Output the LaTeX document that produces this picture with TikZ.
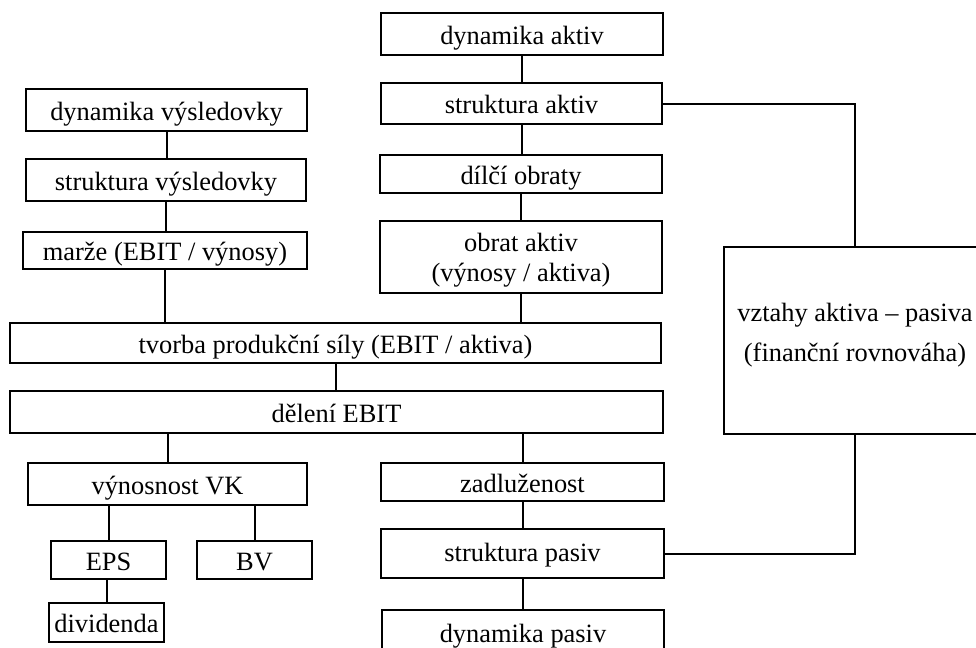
\documentclass[tikz,border=0pt]{standalone}
\usepackage{fontspec}
\setmainfont{Liberation Serif}
\tikzset{
  box/.style={draw, line width=1pt, inner sep=0pt, align=center,
              text height=10pt, text depth=0pt,
              font=\fontsize{13.2}{15}\selectfont},
  sz/.style 2 args={minimum width=#1*0.5pt, minimum height=#2*0.5pt},
  link/.style={draw, line width=1pt}
}
\begin{document}
\begin{tikzpicture}[x=0.5pt,y=-0.5pt]
\useasboundingbox (0,0) rectangle (976,648);

% assets column
\node[box, sz={282}{42}] (da)  at (522,34)      {dynamika aktiv};
\node[box, sz={281}{41}] (sa)  at (521.5,103.5) {struktura aktiv};
\node[box, sz={282}{38}] (dob) at (521,174)     {dílčí obraty};
\node[box, sz={282}{72}, text height=24.7pt] (oa) at (521,257)
  {obrat aktiv\\(výnosy / aktiva)};

% income statement column
\node[box, sz={281}{42}] (dv) at (166.5,110)   {dynamika výsledovky};
\node[box, sz={280}{42}] (sv) at (166,180)     {struktura výsledovky};
\node[box, sz={284}{37}] (mz) at (165,250.5)   {marže (EBIT / výnosy)};

% wide middle rows
\node[box, sz={651}{40}] (tv) at (335.5,343) {tvorba produkční síly (EBIT / aktiva)};
\node[box, sz={653}{42}] (de) at (336.5,412) {dělení EBIT};

% lower left branch
\node[box, sz={279}{42}] (vk)  at (167.5,484)   {výnosnost VK};
\node[box, sz={115}{38}] (eps) at (108.5,560)   {EPS};
\node[box, sz={115}{38}] (bv)  at (254.5,560)   {BV};
\node[box, sz={115}{39}] (div) at (106.5,622.5) {dividenda};

% liabilities column
\node[box, sz={283}{38}] (za) at (522.5,482)   {zadluženost};
\node[box, sz={283}{49}, text height=8pt] (sp) at (522.5,553.5) {struktura pasiv};
\node[box, sz={282}{44}] (dp) at (523,632)     {dynamika pasiv};

% balance box on the right
\node[box, sz={262}{187}, text height=21.2pt,
      font=\fontsize{13.2}{20}\selectfont] (vz) at (855,340.5)
  {vztahy aktiva – pasiva\\(finanční rovnováha)};

% connectors
\draw[link] (da.south) -- (da.south |- sa.north);
\draw[link] (sa.south) -- (sa.south |- dob.north);
\draw[link] (dob.south) -- (dob.south |- oa.north);
\draw[link] (oa.south) -- (oa.south |- tv.north);
\draw[link] (dv.south) -- (dv.south |- sv.north);
\draw[link] (sv.south) -- (sv.south |- mz.north);
\draw[link] (mz.south) -- (mz.south |- tv.north);
\draw[link] (tv.south) -- (tv.south |- de.north);
\draw[link] (vk.north) -- (vk.north |- de.south);
\draw[link] (za.north) -- (za.north |- de.south);
\draw[link] (eps.north) -- (eps.north |- vk.south);
\draw[link] (bv.north) -- (bv.north |- vk.south);
\draw[link] (div.north) -- (div.north |- eps.south);
\draw[link] (za.south) -- (za.south |- sp.north);
\draw[link] (sp.south) -- (sp.south |- dp.north);
\draw[link] (sa.east) -| (vz.north);
\draw[link] (sp.east) -| (vz.south);
\end{tikzpicture}
\end{document}
